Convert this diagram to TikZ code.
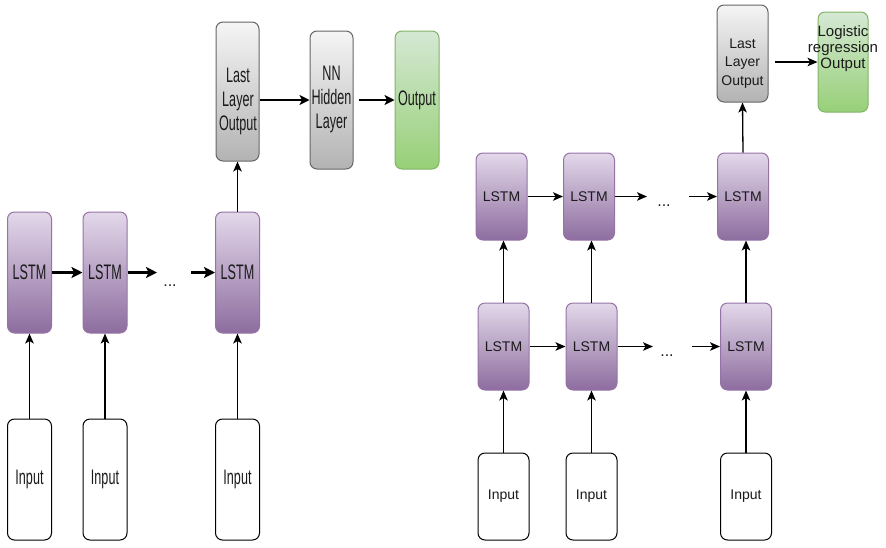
\documentclass[tikz,border=0pt]{standalone}
\usepackage{fontspec}
\usepackage{graphicx}
\setmainfont{Liberation Sans}
\usetikzlibrary{arrows.meta}

\definecolor{lstmtop}{HTML}{E3D8EA}
\definecolor{lstmbot}{HTML}{8D6D9F}
\definecolor{lstmline}{HTML}{9673A6}
\definecolor{graytop}{HTML}{F5F5F5}
\definecolor{graybot}{HTML}{B3B3B3}
\definecolor{grayline}{HTML}{666666}
\definecolor{greentop}{HTML}{D5E8D4}
\definecolor{greenbot}{HTML}{97D077}
\definecolor{greenline}{HTML}{82B366}
\definecolor{ink}{HTML}{1A1A1A}

% condensed lettering used in the left-hand network
\newcommand\cond[1]{\scalebox{0.6}[1]{#1}}
\newcommand\bigtxt{\fontsize{21}{24}\selectfont}
\newcommand\smalltxt{\fontsize{14}{18.5}\selectfont}
\newcommand\dotstxt{\fontsize{16}{18}\selectfont}

\tikzset{
  box/.style={draw, rounded corners=7pt, inner sep=0pt, line width=1pt, text=ink},
  lstmbox/.style={box, draw=lstmline, top color=lstmtop, bottom color=lstmbot},
  graybox/.style={box, draw=grayline, top color=graytop, bottom color=graybot},
  greenbox/.style={box, draw=greenline, top color=greentop, bottom color=greenbot},
  inbox/.style={box, draw=black, fill=white},
  lsize/.style={minimum width=44pt, minimum height=121pt, font=\bigtxt},
  rsize/.style={minimum width=51pt, minimum height=87pt, font=\smalltxt},
  txt/.style={inner sep=0pt, text=ink, align=center},
  boldarr/.style={draw=black, line width=2.4pt, -{Stealth[length=11pt,width=11pt,inset=2.5pt]}},
  medarr/.style={draw=black, line width=1.9pt, -{Stealth[length=10pt,width=10pt,inset=2.5pt]}},
  thinarr/.style={draw=black, line width=1.3pt, -{Stealth[length=10pt,width=8.5pt,inset=2.5pt]}},
}

\begin{document}
\begin{tikzpicture}[x=1pt,y=-1pt]
\useasboundingbox (0,0) rectangle (886,547);

% ---------------- single-layer LSTM with NN head ----------------
\node[lstmbox, lsize] (l1) at (29.5,272.5) {\cond{LSTM}};
\node[lstmbox, lsize] (l2) at (105,272.5) {\cond{LSTM}};
\node[lstmbox, lsize] (l3) at (237.5,272.5) {\cond{LSTM}};
\node[txt, font=\dotstxt, anchor=base] (ldots) at (170,286) {...};

\node[inbox, lsize] (i1) at (29.5,479.5) {\cond{Input}};
\node[inbox, lsize] (i2) at (105,479.5) {\cond{Input}};
\node[inbox, lsize] (i3) at (237.5,479.5) {\cond{Input}};

\node[graybox, minimum width=43pt, minimum height=139pt] (llo) at (237.5,91.5) {};
\node[txt, font=\bigtxt] (llot) at (238,102)
  {\cond{\begin{tabular}{@{}c@{}}Last\\Layer\\Output\end{tabular}}};
\node[graybox, minimum width=43pt, minimum height=138pt, font=\bigtxt] (nn) at (331.5,100)
  {\cond{\begin{tabular}{@{}c@{}}NN\\Hidden\\Layer\end{tabular}}};
\node[greenbox, minimum width=44pt, minimum height=138pt, font=\bigtxt] (out) at (417,100)
  {\cond{Output}};

\coordinate (lgapa) at (157,272.5);
\coordinate (lgapb) at (191,272.5);

\draw[boldarr] (l1.east) -- (l2.west);
\draw[boldarr] (l2.east) -- (lgapa);
\draw[boldarr] (lgapb) -- (l3.west);
\draw[thinarr] (i1.north) -- (l1.south);
\draw[thinarr] (i2.north) -- (l2.south);
\draw[thinarr] (i3.north) -- (l3.south);
\draw[thinarr] (l3.north) -- (llo.south);
\draw[medarr] (llo.east |- nn.east) -- (nn.west);
\draw[medarr, shorten <=5pt] (nn.east) -- (out.west);

% ---------------- two-layer LSTM with logistic regression ----------------
\node[lstmbox, rsize] (u1) at (501.5,196.5) {LSTM};
\node[lstmbox, rsize] (u2) at (589,196.5) {LSTM};
\node[lstmbox, rsize] (u3) at (743,196.5) {LSTM};
\node[txt, font=\dotstxt, anchor=base] (udots) at (664,206) {...};

\node[lstmbox, rsize] (d1) at (503.5,346.5) {LSTM};
\node[lstmbox, rsize] (d2) at (591.5,346.5) {LSTM};
\node[lstmbox, rsize] (d3) at (746,346.5) {LSTM};
\node[txt, font=\dotstxt, anchor=base] (ddots) at (667,356) {...};

\node[inbox, rsize] (j1) at (503.5,496.5) {Input};
\node[inbox, rsize] (j2) at (591.5,496.5) {Input};
\node[inbox, rsize] (j3) at (746,496.5) {Input};

\node[graybox, minimum width=51pt, minimum height=97pt] (rllo) at (742.5,53.5) {};
\node[txt, font=\smalltxt] (rllot) at (742.5,63)
  {\begin{tabular}{@{}c@{}}Last\\Layer\\Output\end{tabular}};
\node[greenbox, minimum width=50pt, minimum height=100pt] (lr) at (843,62) {};
\node[txt, font=\fontsize{15}{16}\selectfont] (lrt) at (843,49)
  {\begin{tabular}{@{}c@{}}Logistic\\regression\\Output\end{tabular}};

\coordinate (ugapa) at (647,196.5);
\coordinate (ugapb) at (689,196.5);
\coordinate (dgapa) at (653,346.5);
\coordinate (dgapb) at (692,346.5);

\draw[thinarr] (u1.east) -- (u2.west);
\draw[thinarr] (u2.east) -- (ugapa);
\draw[thinarr] (ugapb) -- (u3.west);
\draw[thinarr] (d1.east) -- (d2.west);
\draw[thinarr] (d2.east) -- (dgapa);
\draw[thinarr] (dgapb) -- (d3.west);

\draw[thinarr] (j1.north) -- (d1.south);
\draw[thinarr] (j2.north) -- (d2.south);
\draw[thinarr] (j3.north) -- (d3.south);
\draw[thinarr] (d1.north) -- (d1.north |- u1.south);
\draw[thinarr] (d2.north) -- (d2.north |- u2.south);
\draw[thinarr] (d3.north) -- (d3.north |- u3.south);
\draw[thinarr] (u3.north) -- (rllo.south);
\draw[thinarr, shorten <=6pt] (rllo.east |- lr.west) -- (lr.west);
\end{tikzpicture}
\end{document}
